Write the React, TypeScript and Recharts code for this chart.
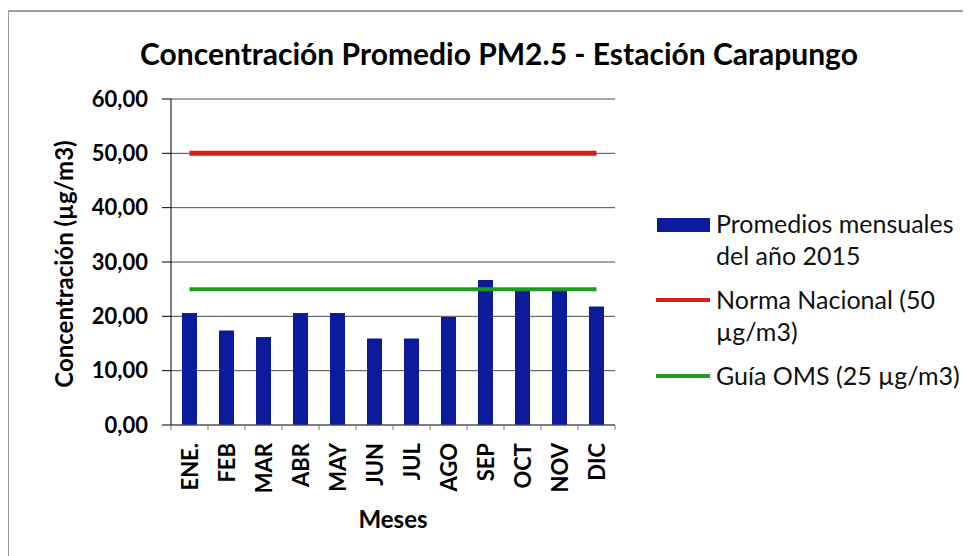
import React from "react"
import { Bar, CartesianGrid, ComposedChart, Legend, Line, XAxis, YAxis } from "recharts"

const months = ["ENE.", "FEB", "MAR", "ABR", "MAY", "JUN", "JUL", "AGO", "SEP", "OCT", "NOV", "DIC"]
const promedios = [20.6, 17.4, 16.2, 20.6, 20.6, 15.9, 15.9, 19.9, 26.7, 24.8, 24.7, 21.8]
const normaNacional = [50, 50, 50, 50, 50, 50, 50, 50, 50, 50, 50, 50]
const guiaOms = [25, 25, 25, 25, 25, 25, 25, 25, 25, 25, 25, 25]
const yTicks = [0, 10, 20, 30, 40, 50, 60]

const data = months.map((m, i) => ({
  mes: m,
  promedio: promedios[i],
  norma: normaNacional[i],
  oms: guiaOms[i],
}))

const FONT = "Lato, 'Noto Sans', sans-serif"
const W = 955
const H = 540
const PLOT_LEFT = 163
const PLOT_RIGHT = 607
const STEP = (PLOT_RIGHT - PLOT_LEFT) / months.length

const fmt = (v: number) => v.toFixed(2).replace(".", ",")

function MonthTick(props: any) {
  const { x, y, payload, index } = props
  return (
    <g>
      <line x1={x - STEP / 2} y1={y - 8} x2={x - STEP / 2} y2={y - 3} stroke="#777" />
      {index === months.length - 1 && (
        <line x1={x + STEP / 2} y1={y - 8} x2={x + STEP / 2} y2={y - 3} stroke="#777" />
      )}
      <text
        x={x}
        y={y + 10}
        transform={`rotate(-90, ${x}, ${y + 10})`}
        textAnchor="end"
        dominantBaseline="central"
        fontFamily={FONT}
        fontWeight={700}
        fontSize={22}
        fill="#000"
      >
        {payload.value}
      </text>
    </g>
  )
}

function YTitle(props: any) {
  const vb = props.viewBox
  const cy = vb.y + vb.height / 2 + 2
  return (
    <text
      x={55}
      y={cy}
      transform={`rotate(-90, 55, ${cy})`}
      textAnchor="middle"
      dominantBaseline="central"
      fontFamily={FONT}
      fontWeight={700}
      fontSize={24}
      fill="#000"
    >
      Concentración (µg/m3)
    </text>
  )
}

function XTitle(props: any) {
  const vb = props.viewBox
  return (
    <text
      x={vb.x + vb.width / 2}
      y={510}
      textAnchor="middle"
      dominantBaseline="central"
      fontFamily={FONT}
      fontWeight={700}
      fontSize={24}
      fill="#000"
    >
      Meses
    </text>
  )
}

const legendItems = [
  { key: "bar", color: "#0c1a9c", text: ["Promedios mensuales", "del año 2015"] },
  { key: "line", color: "#d0211b", text: ["Norma Nacional (50", "µg/m3)"] },
  { key: "line", color: "#1f9a25", text: ["Guía OMS (25 µg/m3)"] },
]

function LegendBox() {
  return (
    <div style={{ fontFamily: FONT, fontSize: 25, color: "#111" }}>
      {legendItems.map((it, i) => (
        <div key={i} style={{ display: "flex", alignItems: "flex-start", marginBottom: 12 }}>
          <svg width={60} height={32} style={{ flex: "none" }}>
            {it.key === "bar" ? (
              <rect x={1} y={11} width={53} height={14} fill={it.color} />
            ) : (
              <line x1={0} y1={17} x2={54} y2={17} stroke={it.color} strokeWidth={4} />
            )}
          </svg>
          <div style={{ lineHeight: "32px", whiteSpace: "nowrap" }}>
            {it.text.map((t, j) => (
              <div key={j}>{t}</div>
            ))}
          </div>
        </div>
      ))}
    </div>
  )
}

export default function App() {
  return (
    <div style={{ position: "relative", width: 963, height: 548 }}>
      <div
        style={{
          position: "absolute",
          left: -1,
          top: 2,
          width: 970,
          height: 560,
          borderTop: "2px solid #9c9c9c",
          borderLeft: "2px solid #9c9c9c",
          boxSizing: "border-box",
        }}
      />
      <div
        style={{
          position: "absolute",
          left: 0,
          top: 27,
          width: 982,
          textAlign: "center",
          fontFamily: FONT,
          fontWeight: 700,
          fontSize: 30,
          color: "#000",
        }}
      >
        Concentración Promedio PM2.5 - Estación Carapungo
      </div>
      <div style={{ position: "absolute", left: 0, top: 0 }}>
        <ComposedChart width={W} height={H} data={data} margin={{ top: 91, right: W - PLOT_RIGHT, bottom: 0, left: 0 }}>
          <CartesianGrid vertical={false} stroke="#2c2c2c" strokeOpacity={0.85} />
          <XAxis
            dataKey="mes"
            height={123}
            interval={0}
            tick={<MonthTick />}
            tickLine={false}
            axisLine={{ stroke: "#555" }}
            label={<XTitle />}
          />
          <YAxis
            width={PLOT_LEFT}
            domain={[0, 60]}
            ticks={yTicks}
            tickFormatter={fmt}
            tickSize={9}
            tickMargin={14}
            tickLine={{ stroke: "#000" }}
            axisLine={{ stroke: "#000" }}
            tick={{ fontFamily: FONT, fontWeight: 700, fontSize: 22, fill: "#000" }}
            label={<YTitle />}
          />
          <Bar dataKey="promedio" fill="#0c1a9c" barSize={15} isAnimationActive={false} />
          <Line dataKey="norma" stroke="#d0211b" strokeWidth={5} dot={false} activeDot={false} isAnimationActive={false} />
          <Line dataKey="oms" stroke="#1f9a25" strokeWidth={4} dot={false} activeDot={false} isAnimationActive={false} />
          <Legend
            layout="vertical"
            align="center"
            verticalAlign="middle"
            content={<LegendBox />}
            wrapperStyle={{ left: 648, top: 199, width: 310 }}
          />
        </ComposedChart>
      </div>
    </div>
  )
}
